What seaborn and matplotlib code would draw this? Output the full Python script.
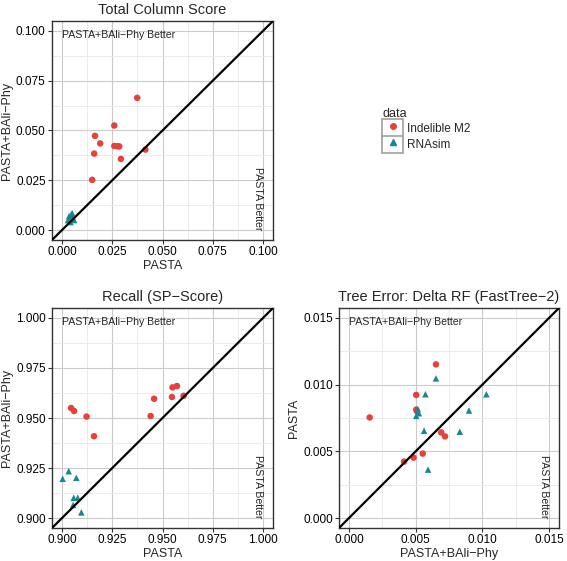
import matplotlib
matplotlib.use("Agg")
import matplotlib.pyplot as plt
import matplotlib.ticker as ticker
from matplotlib.legend_handler import HandlerLine2D
from matplotlib.lines import Line2D
from matplotlib.patches import Rectangle
import seaborn as sns
import pandas as pd

# ---- data ----
groups = ["Indelible M2", "RNAsim"]
colors = ["#E8413A", "#14898E"]
markers = ["o", "^"]

# Total Column Score  (x = PASTA, y = PASTA+BAli-Phy)
tc_m2_x = [0.0374, 0.0260, 0.0164, 0.0190, 0.0160, 0.0260, 0.0275, 0.0285, 0.0150, 0.0293, 0.0415]
tc_m2_y = [0.0664, 0.0525, 0.0473, 0.0435, 0.0384, 0.0422, 0.0421, 0.0420, 0.0252, 0.0357, 0.0404]
tc_rna_x = [0.0030, 0.0035, 0.0040, 0.0045, 0.0050, 0.0055, 0.0060, 0.0042]
tc_rna_y = [0.0050, 0.0070, 0.0060, 0.0075, 0.0085, 0.0060, 0.0050, 0.0040]

# Recall (SP-Score)
sp_m2_x = [0.9045, 0.9060, 0.9122, 0.9159, 0.9441, 0.9458, 0.9547, 0.9550, 0.9572, 0.9605]
sp_m2_y = [0.9550, 0.9535, 0.9507, 0.9409, 0.9510, 0.9596, 0.9605, 0.9653, 0.9660, 0.9611]
sp_rna_x = [0.9003, 0.9033, 0.9071, 0.9058, 0.9078, 0.9055, 0.9096]
sp_rna_y = [0.9196, 0.9234, 0.9201, 0.9101, 0.9101, 0.9065, 0.9028]

# Tree Error: Delta RF (x = PASTA+BAli-Phy, y = PASTA)
rf_m2_x = [0.00652, 0.00504, 0.00504, 0.00155, 0.00691, 0.00720, 0.00553, 0.00484, 0.00413, 0.00510]
rf_m2_y = [0.01152, 0.00923, 0.00813, 0.00754, 0.00642, 0.00612, 0.00483, 0.00453, 0.00423, 0.00800]
rf_rna_x = [0.00652, 0.00573, 0.00514, 0.00524, 0.00504, 0.00563, 0.00900, 0.01030, 0.00831, 0.00593]
rf_rna_y = [0.01047, 0.00928, 0.00816, 0.00786, 0.00766, 0.00654, 0.00806, 0.00928, 0.00647, 0.00363]

tc_ticks = [0.000, 0.025, 0.050, 0.075, 0.100]
sp_ticks = [0.900, 0.925, 0.950, 0.975, 1.000]
rf_ticks = [0.000, 0.005, 0.010, 0.015]

MINUS = "\u2212"
better_top = f"PASTA+BAli{MINUS}Phy Better"
better_side = "PASTA Better"


def make_df(mx, my, rx, ry):
    return pd.DataFrame({
        "x": mx + rx,
        "y": my + ry,
        "data": [groups[0]] * len(mx) + [groups[1]] * len(rx),
    })


sns.set_theme(style="whitegrid")
plt.rcParams['font.family'] = ['Liberation Sans', 'DejaVu Sans']

fig = plt.figure(figsize=(5.67, 5.61), dpi=100)
ax_tc = fig.add_axes([0.0917, 0.5722, 0.3898, 0.3904])
ax_sp = fig.add_axes([0.0917, 0.0588, 0.3898, 0.3922])
ax_rf = fig.add_axes([0.5979, 0.0588, 0.3880, 0.3922])

panels = [
    (ax_tc, make_df(tc_m2_x, tc_m2_y, tc_rna_x, tc_rna_y), tc_ticks,
     "Total Column Score", "PASTA", f"PASTA+BAli{MINUS}Phy"),
    (ax_sp, make_df(sp_m2_x, sp_m2_y, sp_rna_x, sp_rna_y), sp_ticks,
     f"Recall (SP{MINUS}Score)", "PASTA", f"PASTA+BAli{MINUS}Phy"),
    (ax_rf, make_df(rf_m2_x, rf_m2_y, rf_rna_x, rf_rna_y), rf_ticks,
     f"Tree Error: Delta RF (FastTree{MINUS}2)", f"PASTA+BAli{MINUS}Phy", "PASTA"),
]

for ax, df, ticks, title, xlab, ylab in panels:
    lo, hi = ticks[0], ticks[-1]
    pad = (hi - lo) * 0.05
    ax.set_facecolor("white")
    sns.scatterplot(data=df, x="x", y="y", hue="data", style="data",
                    hue_order=groups, style_order=groups,
                    palette=dict(zip(groups, colors)),
                    markers=dict(zip(groups, markers)),
                    s=22, linewidth=0, ax=ax, legend=False, zorder=3)
    ax.set_xlim(lo - pad, hi + pad)
    ax.set_ylim(lo - pad, hi + pad)
    ax.axline((lo, lo), slope=1, color="black", lw=1.6, zorder=4)

    step = ticks[1] - ticks[0]
    for axis in (ax.xaxis, ax.yaxis):
        axis.set_major_locator(ticker.FixedLocator(ticks))
        axis.set_minor_locator(ticker.MultipleLocator(step / 2))
        axis.set_major_formatter(ticker.FormatStrFormatter("%.3f"))
    ax.grid(which="major", color="#CBCBCB", lw=0.8)
    ax.grid(which="minor", color="#E8E8E8", lw=0.6)
    ax.set_axisbelow(True)
    for sp in ax.spines.values():
        sp.set_color("#333333")
        sp.set_linewidth(1.0)
    ax.tick_params(which="major", length=3, width=0.8, color="#333333",
                   labelsize=8.5, labelcolor="black", pad=1.5,
                   bottom=True, left=True)
    ax.tick_params(which="minor", length=0)

    ax.set_title(title, fontsize=10.5, pad=5)
    ax.set_xlabel(xlab, fontsize=9, labelpad=1)
    ax.set_ylabel(ylab, fontsize=9, labelpad=2)

    # x in data, y in axes fraction
    ax.text(lo, 0.935, better_top, fontsize=7.6, ha="left", va="center",
            transform=ax.get_xaxis_transform(), zorder=5)
    # x in axes fraction, y in data
    ax.text(0.932, lo, better_side, fontsize=7.6, rotation=270,
            ha="center", va="bottom", transform=ax.get_yaxis_transform(),
            zorder=5)


class BoxedHandler(HandlerLine2D):
    def create_artists(self, legend, orig_handle, xdescent, ydescent,
                       width, height, fontsize, trans):
        arts = super().create_artists(legend, orig_handle, xdescent, ydescent,
                                      width, height, fontsize, trans)
        box = Rectangle((-xdescent, -ydescent - 0.5), width, height + 1,
                        facecolor="white", edgecolor="#A0A0A0", lw=1.2,
                        transform=trans)
        return [box] + arts


handles = [Line2D([], [], ls="none", marker=m, color=c, markersize=4)
           for m, c in zip(markers, colors)]
leg = fig.legend(handles, groups, title="data", loc="upper left",
                 bbox_to_anchor=(0.664, 0.818), frameon=False,
                 fontsize=8.5, title_fontsize=9, numpoints=1,
                 handlelength=1.75, handleheight=1.75, labelspacing=0.0,
                 handletextpad=0.3, borderpad=0.0,
                 handler_map={Line2D: BoxedHandler()})
leg._legend_box.align = "left"

fig.savefig("out.png", dpi=100)
